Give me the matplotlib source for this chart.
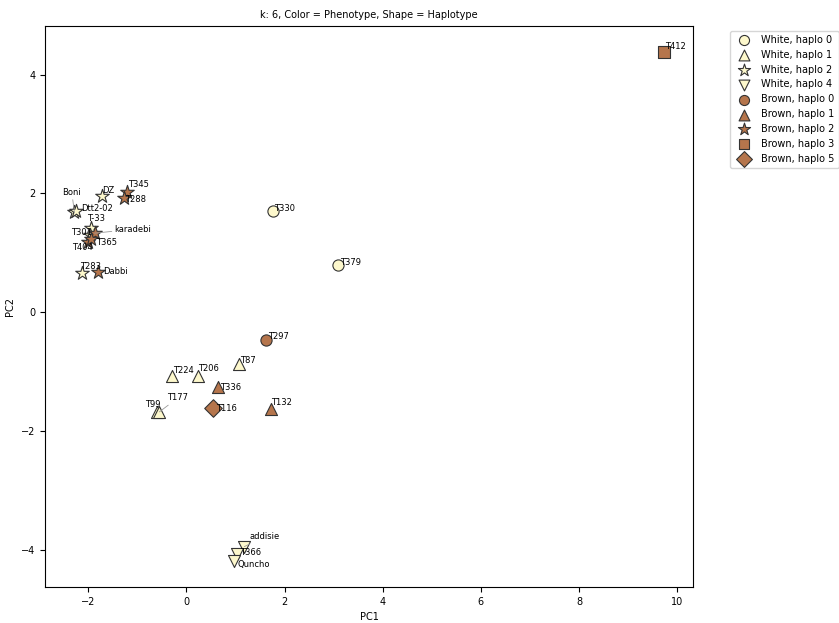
import matplotlib.pyplot as plt

plt.rcParams['font.size'] = 7

# PCA scores per accession
names = ['T330', 'T379', 'T87', 'T224', 'T206', 'T99', 'T177',
         'Boni', 'Dtt2-02', 'DZ', 'T-33', 'T301', 'T283',
         'addisie', 'T366', 'Quncho',
         'T297', 'T336', 'T132', 'T345', 'T288', 'karadebi', 'T404',
         'T365', 'Dabbi', 'T412', 'T116']
pc1 = [1.77, 3.09, 1.08, -0.30, 0.24, -0.59, -0.55,
       -2.28, -2.24, -1.71, -1.95, -1.97, -2.13,
       1.18, 1.04, 0.98,
       1.63, 0.65, 1.73, -1.20, -1.28, -1.87, -2.01,
       -1.95, -1.81, 9.72, 0.55]
pc2 = [1.70, 0.79, -0.87, -1.08, -1.08, -1.68, -1.68,
       1.68, 1.70, 1.95, 1.41, 1.30, 0.66,
       -3.95, -4.08, -4.20,
       -0.47, -1.26, -1.63, 2.03, 1.92, 1.33, 1.19,
       1.24, 0.67, 4.39, -1.61]
phenotype = ['White'] * 16 + ['Brown'] * 11
haplo = [0, 0, 1, 1, 1, 1, 1,
         2, 2, 2, 2, 2, 2,
         4, 4, 4,
         0, 1, 1, 2, 2, 2, 2,
         2, 2, 3, 5]

colors = {'White': '#fdf8cc', 'Brown': '#b5754c'}
markers = {0: 'o', 1: '^', 2: '*', 3: 's', 4: 'v', 5: 'D'}
sizes = {0: 65, 1: 75, 2: 105, 3: 75, 4: 75, 5: 80}

# label offsets in pixels (dx, dy); some labels get a leader line
offsets = {
    'T412': (1, 5), 'T330': (1, 3), 'T379': (2, 3), 'T297': (2, 4),
    'T87': (1, 3), 'T224': (1, 6), 'T206': (0, 8), 'T336': (2, -1),
    'T116': (3, -1), 'T132': (0, 6), 'T99': (-12, 7), 'T177': (8, 14),
    'addisie': (5, 10), 'T366': (3, 2), 'Quncho': (3, -3),
    'Boni': (-12, 20), 'Dtt2-02': (5, 3), 'DZ': (0, 6), 'T345': (1, 7),
    'T288': (2, -1), 'T-33': (-4, 10), 'T301': (-19, 2),
    'karadebi': (20, 4), 'T404': (-16, -6), 'T365': (5, -4),
    'T283': (-2, 6), 'Dabbi': (6, 1),
}
leaders = ['T177', 'addisie', 'Boni', 'karadebi']

fig = plt.figure(figsize=(8.39, 6.23), dpi=100)
ax = fig.add_axes([0.0536, 0.0578, 0.7724, 0.9004])

for ph in ['White', 'Brown']:
    for h in sorted(set(haplo)):
        idx = [i for i in range(len(names)) if phenotype[i] == ph and haplo[i] == h]
        if not idx:
            continue
        ax.scatter([pc1[i] for i in idx], [pc2[i] for i in idx],
                   c=colors[ph], marker=markers[h], s=sizes[h],
                   edgecolors='#333333', linewidths=0.8,
                   label=f'{ph}, haplo {h}')

for i, name in enumerate(names):
    dx, dy = offsets[name]
    arrow = None
    if name in leaders:
        arrow = dict(arrowstyle='-', color='#999999', lw=0.6,
                     shrinkA=0, shrinkB=0)
    ax.annotate(name, (pc1[i], pc2[i]), xytext=(dx, dy),
                textcoords='offset pixels', ha='left', va='center',
                fontsize=6, arrowprops=arrow)

ax.set_title('k: 6, Color = Phenotype, Shape = Haplotype', fontsize=7)
ax.set_xlabel('PC1')
ax.set_ylabel('PC2')
ax.legend(bbox_to_anchor=(1.05, 1), loc='upper left', markerscale=0.9)

fig.savefig('out.png', dpi=100)
